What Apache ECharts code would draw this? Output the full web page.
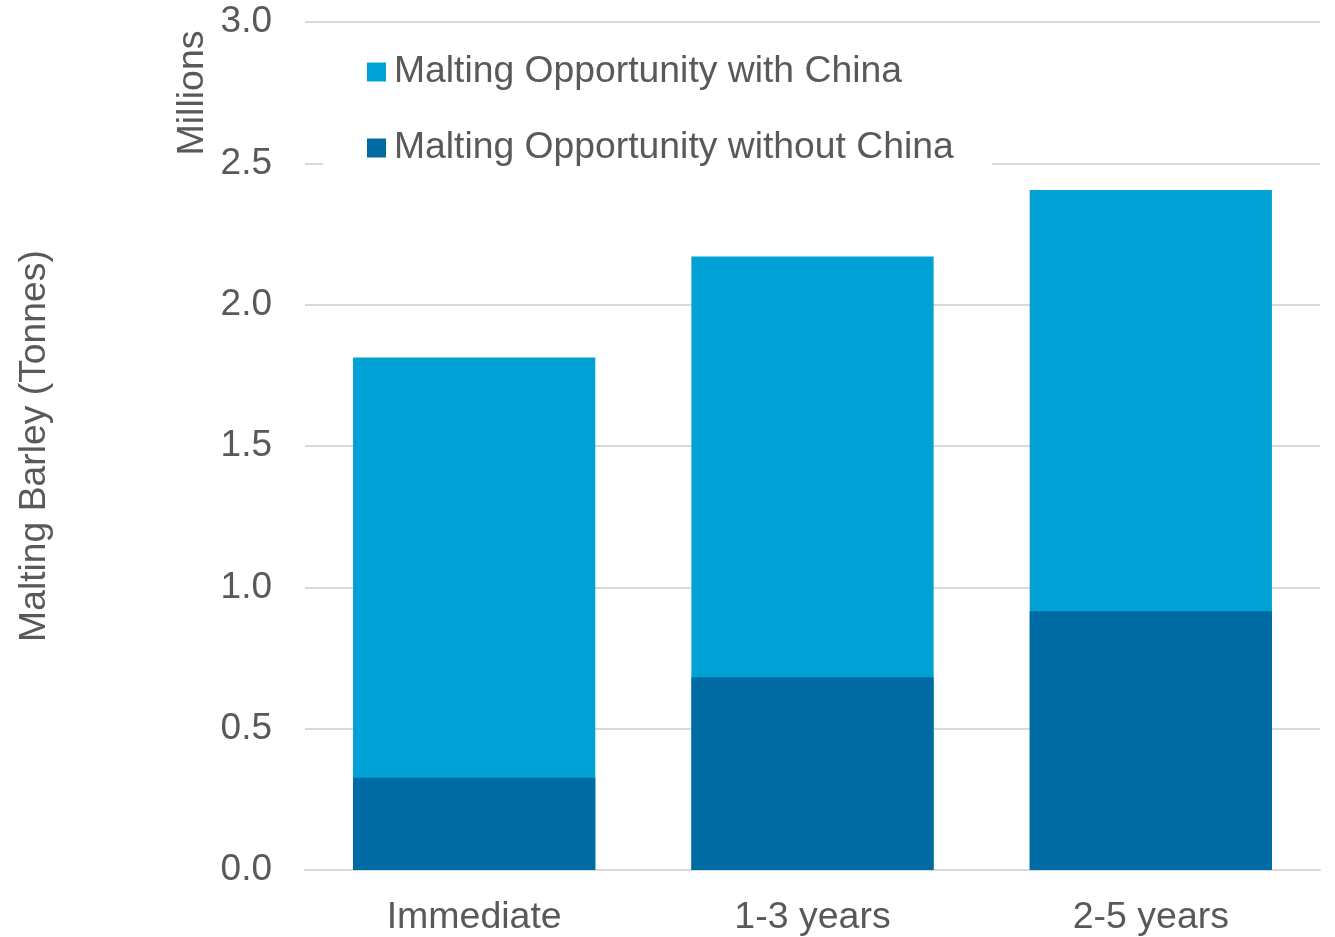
<!DOCTYPE html>
<html>
<head>
<meta charset="utf-8">
<title>Malting Barley Opportunity</title>
<script src="https://cdn.jsdelivr.net/npm/echarts@6/dist/echarts.min.js"></script>
<style>
  html, body { margin: 0; padding: 0; background: #ffffff; }
  #chart { width: 1335px; height: 937px; }
</style>
</head>
<body>
<div id="chart"></div>
<script>
// Time horizons
const categories = ['Immediate', '1-3 years', '2-5 years'];
// Malting barley opportunity, millions of tonnes
const withChina = [1.813, 2.170, 2.406];
const withoutChina = [0.326, 0.682, 0.915];
// Value axis ticks (millions)
const yMin = 0;
const yMax = 3.0;
const yStep = 0.5;

const seriesNames = ['Malting Opportunity with China', 'Malting Opportunity without China'];

const FONT = '"Liberation Sans", Arial, Helvetica, sans-serif';
const TEXT = '#595959';
const GRID_LINE = '#D9D9D9';
const LIGHT = '#00A2D6';
const DARK = '#006BA3';

const chart = echarts.init(document.getElementById('chart'), null, { renderer: 'canvas' });

chart.setOption({
  backgroundColor: '#ffffff',
  animation: false,
  textStyle: { fontFamily: FONT, color: TEXT },
  grid: { left: 305, right: 15, top: 22, bottom: 66, containLabel: false },
  legend: {
    orient: 'vertical',
    left: 323,
    top: 32,
    padding: [20, 38, 8, 44],
    backgroundColor: '#ffffff',
    itemGap: 36,
    itemWidth: 19,
    itemHeight: 19,
    icon: 'rect',
    data: seriesNames,
    textStyle: { fontFamily: FONT, fontSize: 37.3, color: TEXT, lineHeight: 40, padding: [0, 0, 0, 3] },
    z: 5
  },
  xAxis: {
    type: 'category',
    data: categories,
    axisLine: { show: true, lineStyle: { color: GRID_LINE, width: 2 } },
    axisTick: { show: false },
    axisLabel: { fontFamily: FONT, fontSize: 37.5, color: TEXT, margin: 29 }
  },
  yAxis: {
    type: 'value',
    min: yMin,
    max: yMax,
    interval: yStep,
    name: 'Malting Barley (Tonnes)',
    nameLocation: 'middle',
    nameRotate: 90,
    nameGap: 252,
    nameTextStyle: { fontFamily: FONT, fontSize: 37.3, color: TEXT },
    axisLine: { show: false },
    axisTick: { show: false },
    axisLabel: {
      fontFamily: FONT, fontSize: 37, color: TEXT, margin: 33,
      padding: [4, 0, 0, 0],
      formatter: v => v.toFixed(1)
    },
    splitLine: { show: true, lineStyle: { color: GRID_LINE, width: 2 } }
  },
  graphic: [{
    type: 'text',
    x: 193,
    y: 93,
    rotation: Math.PI / 2,
    style: {
      text: 'Millions',
      fontFamily: FONT,
      fontSize: 37.5,
      fill: TEXT,
      align: 'center',
      verticalAlign: 'middle'
    }
  }],
  series: [
    {
      name: seriesNames[0],
      type: 'bar',
      data: withChina,
      barWidth: '71.6%',
      barGap: '-100%',
      itemStyle: { color: LIGHT },
      z: 2
    },
    {
      name: seriesNames[1],
      type: 'bar',
      data: withoutChina,
      barWidth: '71.6%',
      barGap: '-100%',
      itemStyle: { color: DARK },
      z: 3
    }
  ]
});
</script>
</body>
</html>
